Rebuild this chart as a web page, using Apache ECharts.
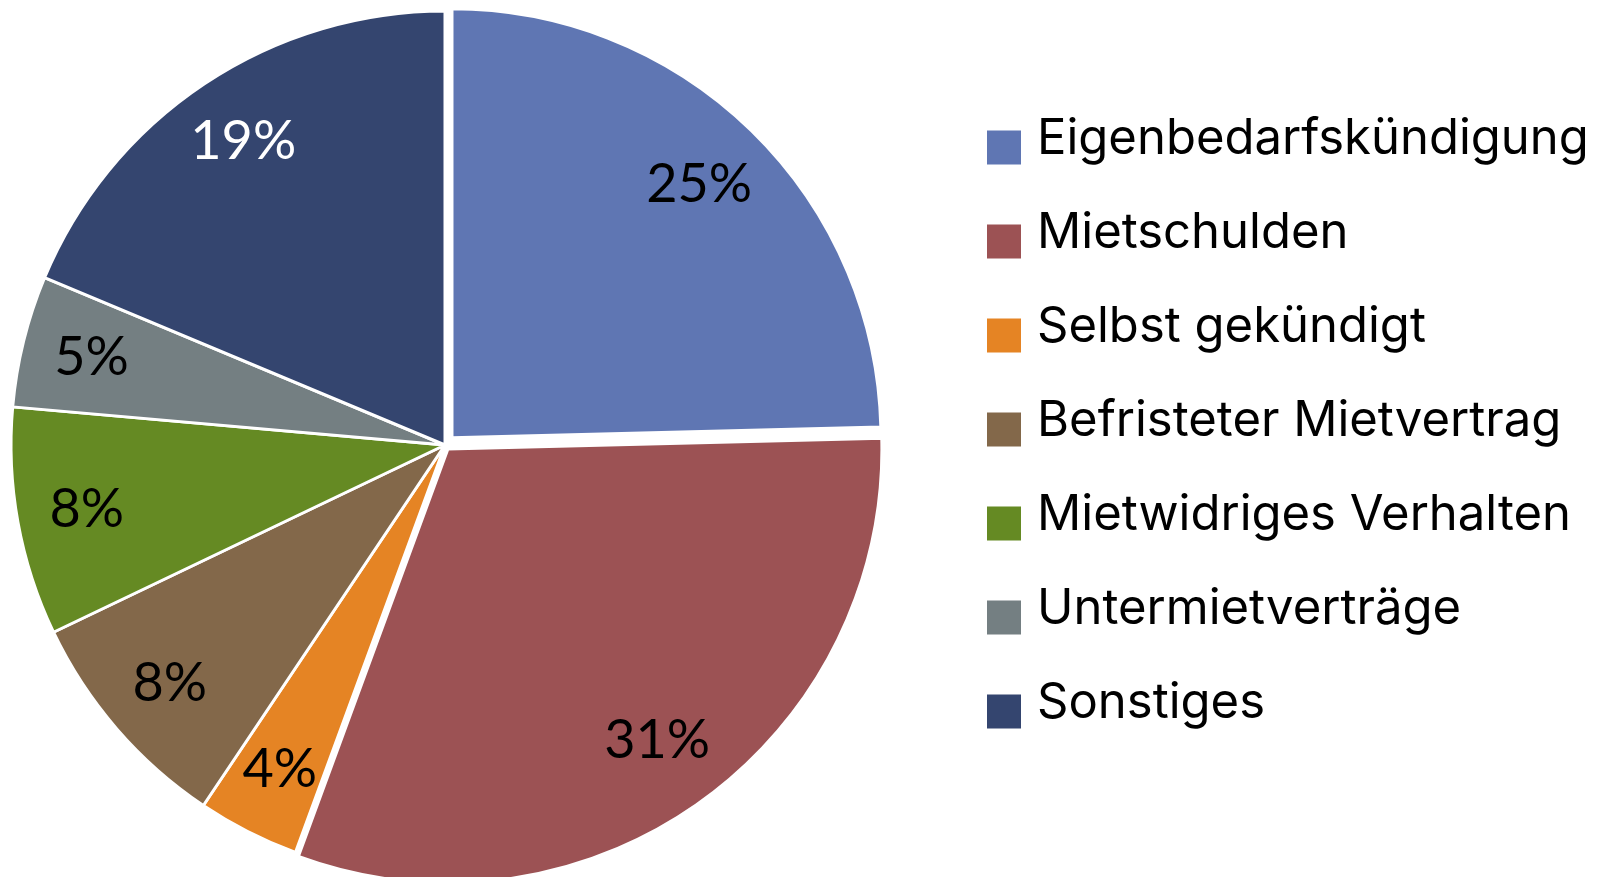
<!DOCTYPE html>
<html><head><meta charset="utf-8">
<script src="https://cdn.jsdelivr.net/npm/echarts@6/dist/echarts.min.js"></script>
<style>html,body{margin:0;padding:0;background:#fff}#c{width:1599px;height:877px}</style>
</head><body><div id="c"></div>
<script>
const categories = ['Eigenbedarfskündigung', 'Mietschulden', 'Selbst gekündigt', 'Befristeter Mietvertrag', 'Mietwidriges Verhalten', 'Untermietverträge', 'Sonstiges'];
const values = [24.6, 31.0, 3.8, 8.5, 8.5, 4.9, 18.7];
const colors = ['#5F76B3', '#9C5254', '#E58424', '#83684A', '#658A23', '#747F82', '#34456F'];
const labelColors = ['#000', '#000', '#000', '#000', '#000', '#000', '#fff'];

const LEGEND_FONT = 'Inter';
const LABEL_FONT = 'Lato';
const CENTER = [445, 445];
const T = 'rgba(0,0,0,0)';

const chart = echarts.init(document.getElementById('c'), null, {renderer: 'canvas'});

// Main pie: everything except the first (exploded, smaller) slice
const mainData = categories.map((n, i) => ({
  name: n, value: values[i], selected: i === 1,
  itemStyle: i === 0 ? {color: T, borderWidth: 0} : {color: colors[i]}
}));
// First slice drawn separately (exploded further, slightly smaller radius)
const firstData = categories.map((n, i) => ({
  name: n, value: values[i], selected: i === 0,
  itemStyle: i === 0 ? {color: colors[i]} : {color: T, borderWidth: 0}
}));
// Invisible ring carrying the percentage labels
const labelData = categories.map((n, i) => ({
  name: n, value: values[i],
  itemStyle: {color: T, borderWidth: 0},
  label: {color: labelColors[i]}
}));

chart.setOption({
  animation: false,
  backgroundColor: '#fff',
  legend: {
    orient: 'vertical',
    left: 987, top: 115,
    padding: 0,
    icon: 'rect',
    itemWidth: 34, itemHeight: 34,
    itemGap: 44.5,
    selectedMode: false,
    itemStyle: {borderWidth: 0},
    formatter: '{n|{name}}',
    textStyle: {
      fontFamily: LEGEND_FONT, fontSize: 49, color: '#000',
      rich: {n: {fontFamily: LEGEND_FONT, fontSize: 49, color: '#000', padding: [0, 0, 16, 11]}}
    },
    data: categories.map((n, i) => ({name: n, itemStyle: {color: colors[i], borderWidth: 0}}))
  },
  series: [
    {
      type: 'pie', center: CENTER, radius: [0, 434], startAngle: 90, clockwise: true,
      selectedMode: 'multiple', selectedOffset: 5, avoidLabelOverlap: false,
      itemStyle: {borderColor: '#fff', borderWidth: 3},
      label: {show: false}, labelLine: {show: false},
      emphasis: {disabled: true}, silent: true,
      data: mainData
    },
    {
      type: 'pie', center: CENTER, radius: [0, 429], startAngle: 90, clockwise: true,
      selectedMode: 'multiple', selectedOffset: 10, avoidLabelOverlap: false,
      itemStyle: {borderColor: '#fff', borderWidth: 3},
      label: {show: false}, labelLine: {show: false},
      emphasis: {disabled: true}, silent: true,
      data: firstData
    },
    {
      type: 'pie', center: CENTER, radius: [296, 426], startAngle: 90, clockwise: true,
      percentPrecision: 0, avoidLabelOverlap: false,
      label: {show: true, position: 'inside', formatter: '{d}%', fontFamily: LABEL_FONT, fontSize: 54},
      labelLine: {show: false},
      emphasis: {disabled: true}, silent: true,
      data: labelData
    }
  ]
});
</script></body></html>
